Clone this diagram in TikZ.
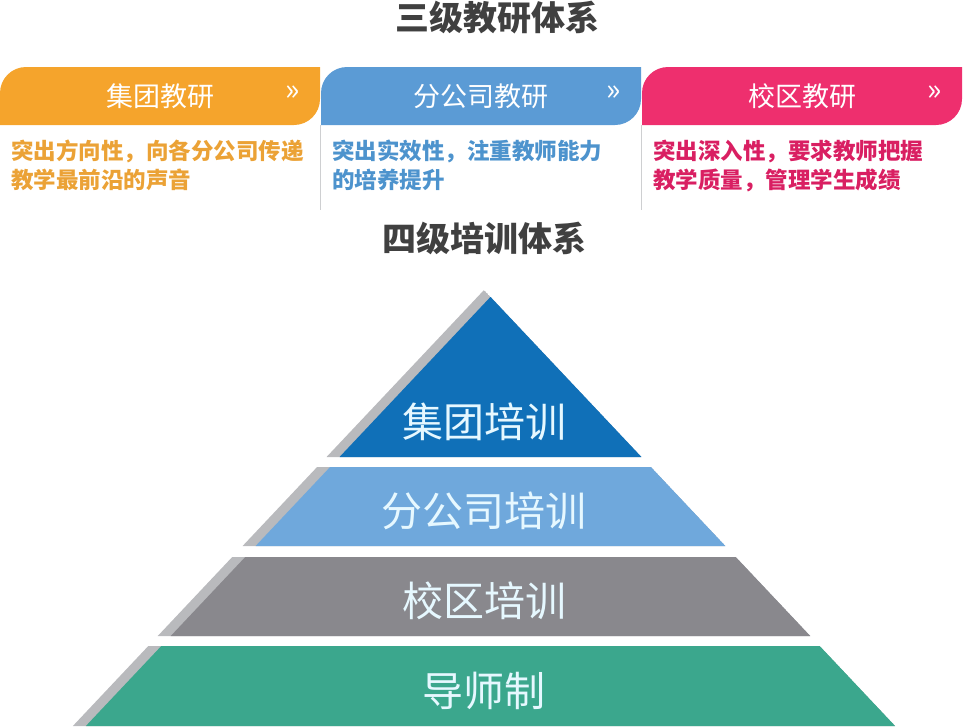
\documentclass[tikz,border=0pt]{standalone}
\usepackage{fontspec}
\setmainfont{Noto Sans CJK SC}
\definecolor{tabA}{HTML}{F5A42C}
\definecolor{tabB}{HTML}{5B9BD5}
\definecolor{tabC}{HTML}{EE2F6E}
\definecolor{txtA}{HTML}{EBA236}
\definecolor{txtB}{HTML}{4D93CD}
\definecolor{txtC}{HTML}{D91F62}
\definecolor{pyrA}{HTML}{1070B8}
\definecolor{pyrB}{HTML}{6FA8DC}
\definecolor{pyrC}{HTML}{89888D}
\definecolor{pyrD}{HTML}{3BA78D}
\definecolor{edgegray}{HTML}{B9BABD}
\definecolor{headgray}{HTML}{404040}
\definecolor{pyrtext}{HTML}{E6F8FF}
\tikzset{
  headline/.style={font=\fontsize{34}{38}\selectfont\bfseries, text=headgray},
  tabtitle/.style={font=\fontsize{27}{30}\selectfont, text=white},
  tabnote/.style={font=\fontsize{22.5}{29}\selectfont\bfseries, align=left, anchor=north west, inner sep=0pt},
  layertext/.style={font=\fontsize{41}{45}\selectfont, text=pyrtext}
}
\begin{document}
\begin{tikzpicture}[x=1pt, y=-1pt]
    \useasboundingbox (0,0) rectangle (964,726);
    \node[headline] (title3) at (497,18) {三级教研体系};
    \node[headline] (title4) at (484,238) {四级培训体系};
    % three research tabs
    \foreach \x/\col/\tcol/\txt/\nm/\note in {%
        0/tabA/txtA/集团教研/jt/{突出方向性，向各分公司传递\\教学最前沿的声音},
        321/tabB/txtB/分公司教研/fgs/{突出实效性，注重教师能力\\的培养提升},
        642/tabC/txtC/校区教研/xq/{突出深入性，要求教师把握\\教学质量，管理学生成绩}} {
        \fill[\col] (\x,125) [rounded corners=26] -- (\x,67) [sharp corners] -- (\x+320,67)
            [rounded corners=26] -- (\x+320,125) [sharp corners] -- cycle;
        \node[tabtitle] (\nm) at (\x+160,96) {\txt};
        \node[tabtitle, font=\fontsize{30}{30}\selectfont] (\nm-go) at (\x+293,93) {»};
        \node[tabnote, text=\tcol] (\nm-note) at (\x+11,140) {\note};
    }
    \draw[edgegray!70, line width=1pt] (320.5,125) -- (320.5,210);
    \draw[edgegray!70, line width=1pt] (641.5,125) -- (641.5,210);
    % four training layers
    \foreach \yt/\yb/\col/\txt/\nm in {%
        290/457/pyrA/集团培训/jt,
        467/546/pyrB/分公司培训/fgs,
        557/636/pyrC/校区培训/xq,
        646/726/pyrD/导师制/ds} {
        \pgfmathsetmacro\lt{484-0.943*(\yt-290)}
        \pgfmathsetmacro\lb{484-0.943*(\yb-290)}
        \pgfmathsetmacro\rt{968-\lt}
        \pgfmathsetmacro\rb{968-\lb}
        \begin{scope}
            \clip (\lt,\yt) -- (\rt,\yt) -- (\rb,\yb) -- (\lb,\yb) -- cycle;
            \fill[edgegray] (\lt,\yt) -- (\rt,\yt) -- (\rb,\yb) -- (\lb,\yb) -- cycle;
            \fill[\col] (\lt+13,\yt) -- (\rt+13,\yt) -- (\rb+13,\yb) -- (\lb+13,\yb) -- cycle;
        \end{scope}
        \node[layertext] (layer-\nm) at (484,\yb-35) {\txt};
    }
\end{tikzpicture}
\end{document}
